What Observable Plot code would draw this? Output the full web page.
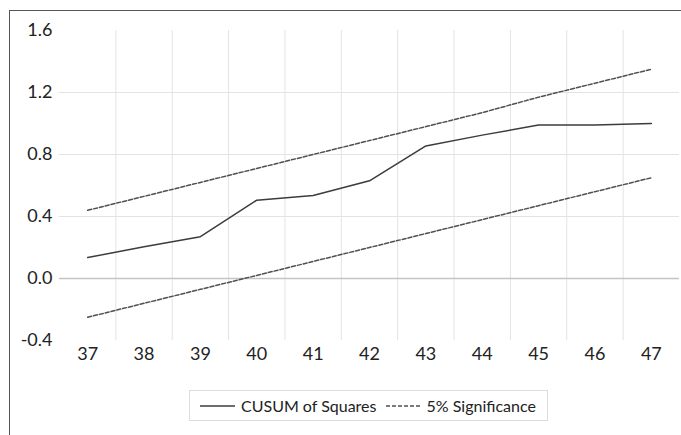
<!DOCTYPE html>
<html><head><meta charset="utf-8">
<script src="https://cdn.jsdelivr.net/npm/d3@7"></script>
<script src="https://cdn.jsdelivr.net/npm/@observablehq/plot@0.6"></script>
<style>
body{margin:0;background:#fff;font-family:Lato,"Open Sans",sans-serif;}
#wrap{position:relative;width:681px;height:435px;overflow:hidden;background:#fff;}
#frame{position:absolute;left:9px;top:10px;width:800px;height:600px;border-left:1.5px solid #555;border-top:1.5px solid #555;}
#chart{position:absolute;left:0;top:0;}
#legend{position:absolute;left:189px;top:390px;width:359px;height:31px;border:1px solid #dcdcdc;display:flex;align-items:center;box-sizing:border-box;padding-left:10px;font-size:16px;color:#222;white-space:nowrap;}
#legend .item{display:flex;align-items:center;margin-right:9px;flex-shrink:0;}
#legend svg{margin-right:6px;flex-shrink:0;}
</style></head>
<body>
<div id="wrap"><div id="frame"></div><div id="chart"></div><div id="legend"></div></div>
<script>
const categories = [37, 38, 39, 40, 41, 42, 43, 44, 45, 46, 47];
const cusum = [0.135, 0.205, 0.27, 0.505, 0.535, 0.63, 0.855, 0.925, 0.99, 0.99, 1.0];
const upper = [0.44, 0.53, 0.62, 0.71, 0.80, 0.89, 0.98, 1.07, 1.17, 1.26, 1.35];
const lower = [-0.25, -0.16, -0.07, 0.02, 0.11, 0.20, 0.29, 0.38, 0.47, 0.56, 0.65];
const yTicks = [-0.4, 0.0, 0.4, 0.8, 1.2, 1.6];
const seriesNames = ["CUSUM of Squares", "5% Significance"];

const rows = categories.map((c, i) => ({c, cusum: cusum[i], upper: upper[i], lower: lower[i]}));
const bounds = categories.slice(0, -1).map(c => c + 0.5);
const lineColor = "#3c3c3c";
const dashColor = "#505050";

const chart = Plot.plot({
  width: 681,
  height: 375,
  marginLeft: 59,
  marginRight: 2,
  marginTop: 30,
  marginBottom: 35,
  style: {fontFamily: "Lato, 'Open Sans', sans-serif", fontSize: "18px", color: "#222", background: "transparent"},
  x: {type: "linear", domain: [36.5, 47.5]},
  y: {domain: [-0.4, 1.6]},
  marks: [
    Plot.ruleX(bounds, {y1: -0.4, y2: 1.6, stroke: "#e3e3e3", strokeWidth: 1}),
    Plot.ruleY(yTicks.filter(v => v > 0 && v < 1.6), {stroke: "#e3e3e3", strokeWidth: 1}),
    Plot.ruleY([0], {stroke: "#c4c4c4", strokeWidth: 1.5}),
    Plot.axisY({ticks: yTicks, tickSize: 0, tickPadding: 7, tickFormat: d => d.toFixed(1), fontSize: 18, label: null}),
    Plot.axisX({ticks: categories, tickSize: 0, tickPadding: 7, tickFormat: d => String(d), fontSize: 18, label: null}),
    Plot.line(rows, {x: "c", y: "upper", stroke: dashColor, strokeWidth: 1.5, strokeDasharray: "4,2"}),
    Plot.line(rows, {x: "c", y: "lower", stroke: dashColor, strokeWidth: 1.5, strokeDasharray: "4,2"}),
    Plot.line(rows, {x: "c", y: "cusum", stroke: lineColor, strokeWidth: 1.5})
  ]
});
document.getElementById("chart").appendChild(chart);

const legend = document.getElementById("legend");
seriesNames.forEach((name, i) => {
  const item = document.createElement("div");
  item.className = "item";
  item.innerHTML = `<svg width="35" height="10"><line x1="0" y1="5" x2="35" y2="5" stroke="${i ? dashColor : lineColor}" stroke-width="1.5" ${i ? 'stroke-dasharray="4,2"' : ''}/></svg><span>${name}</span>`;
  legend.appendChild(item);
});
</script>
</body></html>
